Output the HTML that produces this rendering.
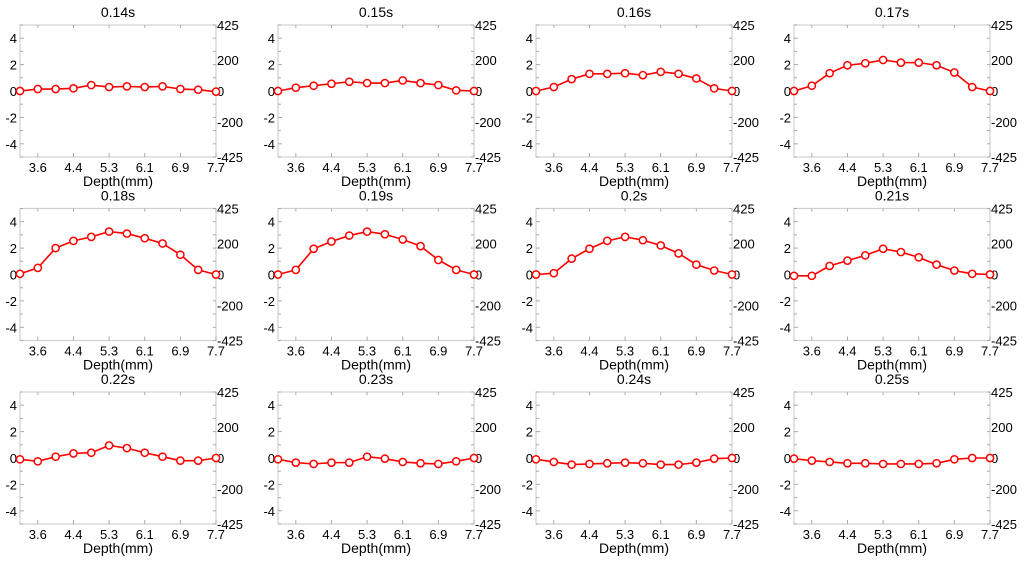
<!DOCTYPE html>
<html><head><meta charset="utf-8"><style>
body{margin:0;background:#fff;}
svg{display:block;font-family:"Liberation Sans",Arial,sans-serif;}
</style></head><body>
<svg id="c" width="1024" height="562"></svg>
<script>
const titles=["0.14s","0.15s","0.16s","0.17s","0.18s","0.19s","0.2s","0.21s","0.22s","0.23s","0.24s","0.25s"];
const xTickLabels=["3.6","4.4","5.3","6.1","6.9","7.7"];
const xTickIdx=[1,3,5,7,9,11];
const yTicksLeft=[4,2,0,-2,-4];
const yTicksRight=["425","200","0","-200","-425"];
const s014=[0,0.15,0.15,0.2,0.45,0.3,0.35,0.3,0.35,0.15,0.1,-0.05];
const s015=[0,0.25,0.4,0.55,0.7,0.6,0.6,0.8,0.6,0.45,0.05,0];
const s016=[0,0.3,0.9,1.3,1.3,1.35,1.2,1.45,1.3,0.95,0.2,0];
const s017=[0,0.4,1.35,1.95,2.1,2.35,2.15,2.15,1.95,1.4,0.3,0];
const s018=[0.05,0.5,2.0,2.55,2.85,3.25,3.1,2.75,2.35,1.5,0.35,0];
const s019=[0,0.35,1.95,2.5,2.95,3.25,3.05,2.65,2.15,1.1,0.35,0];
const s020=[0,0.1,1.2,1.95,2.55,2.85,2.6,2.2,1.6,0.75,0.3,0];
const s021=[-0.1,-0.1,0.65,1.05,1.45,1.95,1.7,1.3,0.75,0.3,0.05,0];
const s022=[-0.1,-0.25,0.1,0.35,0.4,0.95,0.75,0.4,0.1,-0.2,-0.2,0];
const s023=[-0.1,-0.35,-0.45,-0.35,-0.35,0.1,-0.05,-0.3,-0.4,-0.45,-0.25,0];
const s024=[-0.1,-0.3,-0.5,-0.45,-0.4,-0.35,-0.4,-0.5,-0.5,-0.35,-0.05,0];
const s025=[-0.05,-0.2,-0.3,-0.4,-0.4,-0.45,-0.45,-0.45,-0.4,-0.1,0,0];
const series=[s014,s015,s016,s017,s018,s019,s020,s021,s022,s023,s024,s025];
const NS="http://www.w3.org/2000/svg";
const svg=document.getElementById('c');
function mk(t,a,p){const e=document.createElementNS(NS,t);for(const k in a)e.setAttribute(k,a[k]);(p||svg).appendChild(e);return e;}
const W=196,H=132;
series.forEach((d,i)=>{
  const c=i%4,r=Math.floor(i/4);
  const L=20+258*c,T=25+183.5*r;
  const g=mk('g',{});
  
  
  const xs=k=>L+k*W/(d.length-1);
  const ys=v=>T+H/2-v*H/10;
  const box=mk('rect',{x:L,y:T,width:W,height:H,fill:'none',stroke:'#d0d0d0','stroke-width':1.2},g);
  
  
  for(let v=-5;v<=5;v+=1){const y=ys(v);mk('line',{x1:L,x2:L+(v%2===0?4:3),y1:y,y2:y,stroke:'#aaa'},g);mk('line',{x1:L+W,x2:L+W-3,y1:y,y2:y,stroke:'#aaa'},g);}
  xTickIdx.forEach(k=>{mk('line',{x1:xs(k),x2:xs(k),y1:T+H,y2:T+H-4,stroke:'#aaa'},g);mk('line',{x1:xs(k),x2:xs(k),y1:T,y2:T+3,stroke:'#aaa'},g);});
  const t=mk('text',{x:L+W/2,y:T-8,'text-anchor':'middle','font-size':14},g);t.textContent=titles[i];
  
  
  yTicksLeft.forEach(v=>{const e=mk('text',{x:L-3,y:ys(v)+5,'text-anchor':'end','font-size':13},g);e.textContent=v;});
  yTicksRight.forEach((s,j)=>{const v=[5,2.35,0,-2.35,-5][j];const e=mk('text',{x:L+W+1,y:ys(v)+5,'font-size':13},g);e.textContent=s;});
  xTickIdx.forEach((k,j)=>{const e=mk('text',{x:xs(k),y:T+H+15,'text-anchor':'middle','font-size':13},g);e.textContent=xTickLabels[j];});
  const xl=mk('text',{x:L+W/2,y:T+H+29,'text-anchor':'middle','font-size':14},g);xl.textContent='Depth(mm)';
  
  
  const pl=mk('polyline',{points:d.map((v,k)=>xs(k)+','+ys(v)).join(' '),fill:'none',stroke:'#f00','stroke-width':1.6},g);
  
  
  d.forEach((v,k)=>{const p=mk('circle',{cx:xs(k),cy:ys(v),r:3.6,fill:'#fff',stroke:'#f00','stroke-width':1.5},g);
    
    });
});
</script>
</body></html>
